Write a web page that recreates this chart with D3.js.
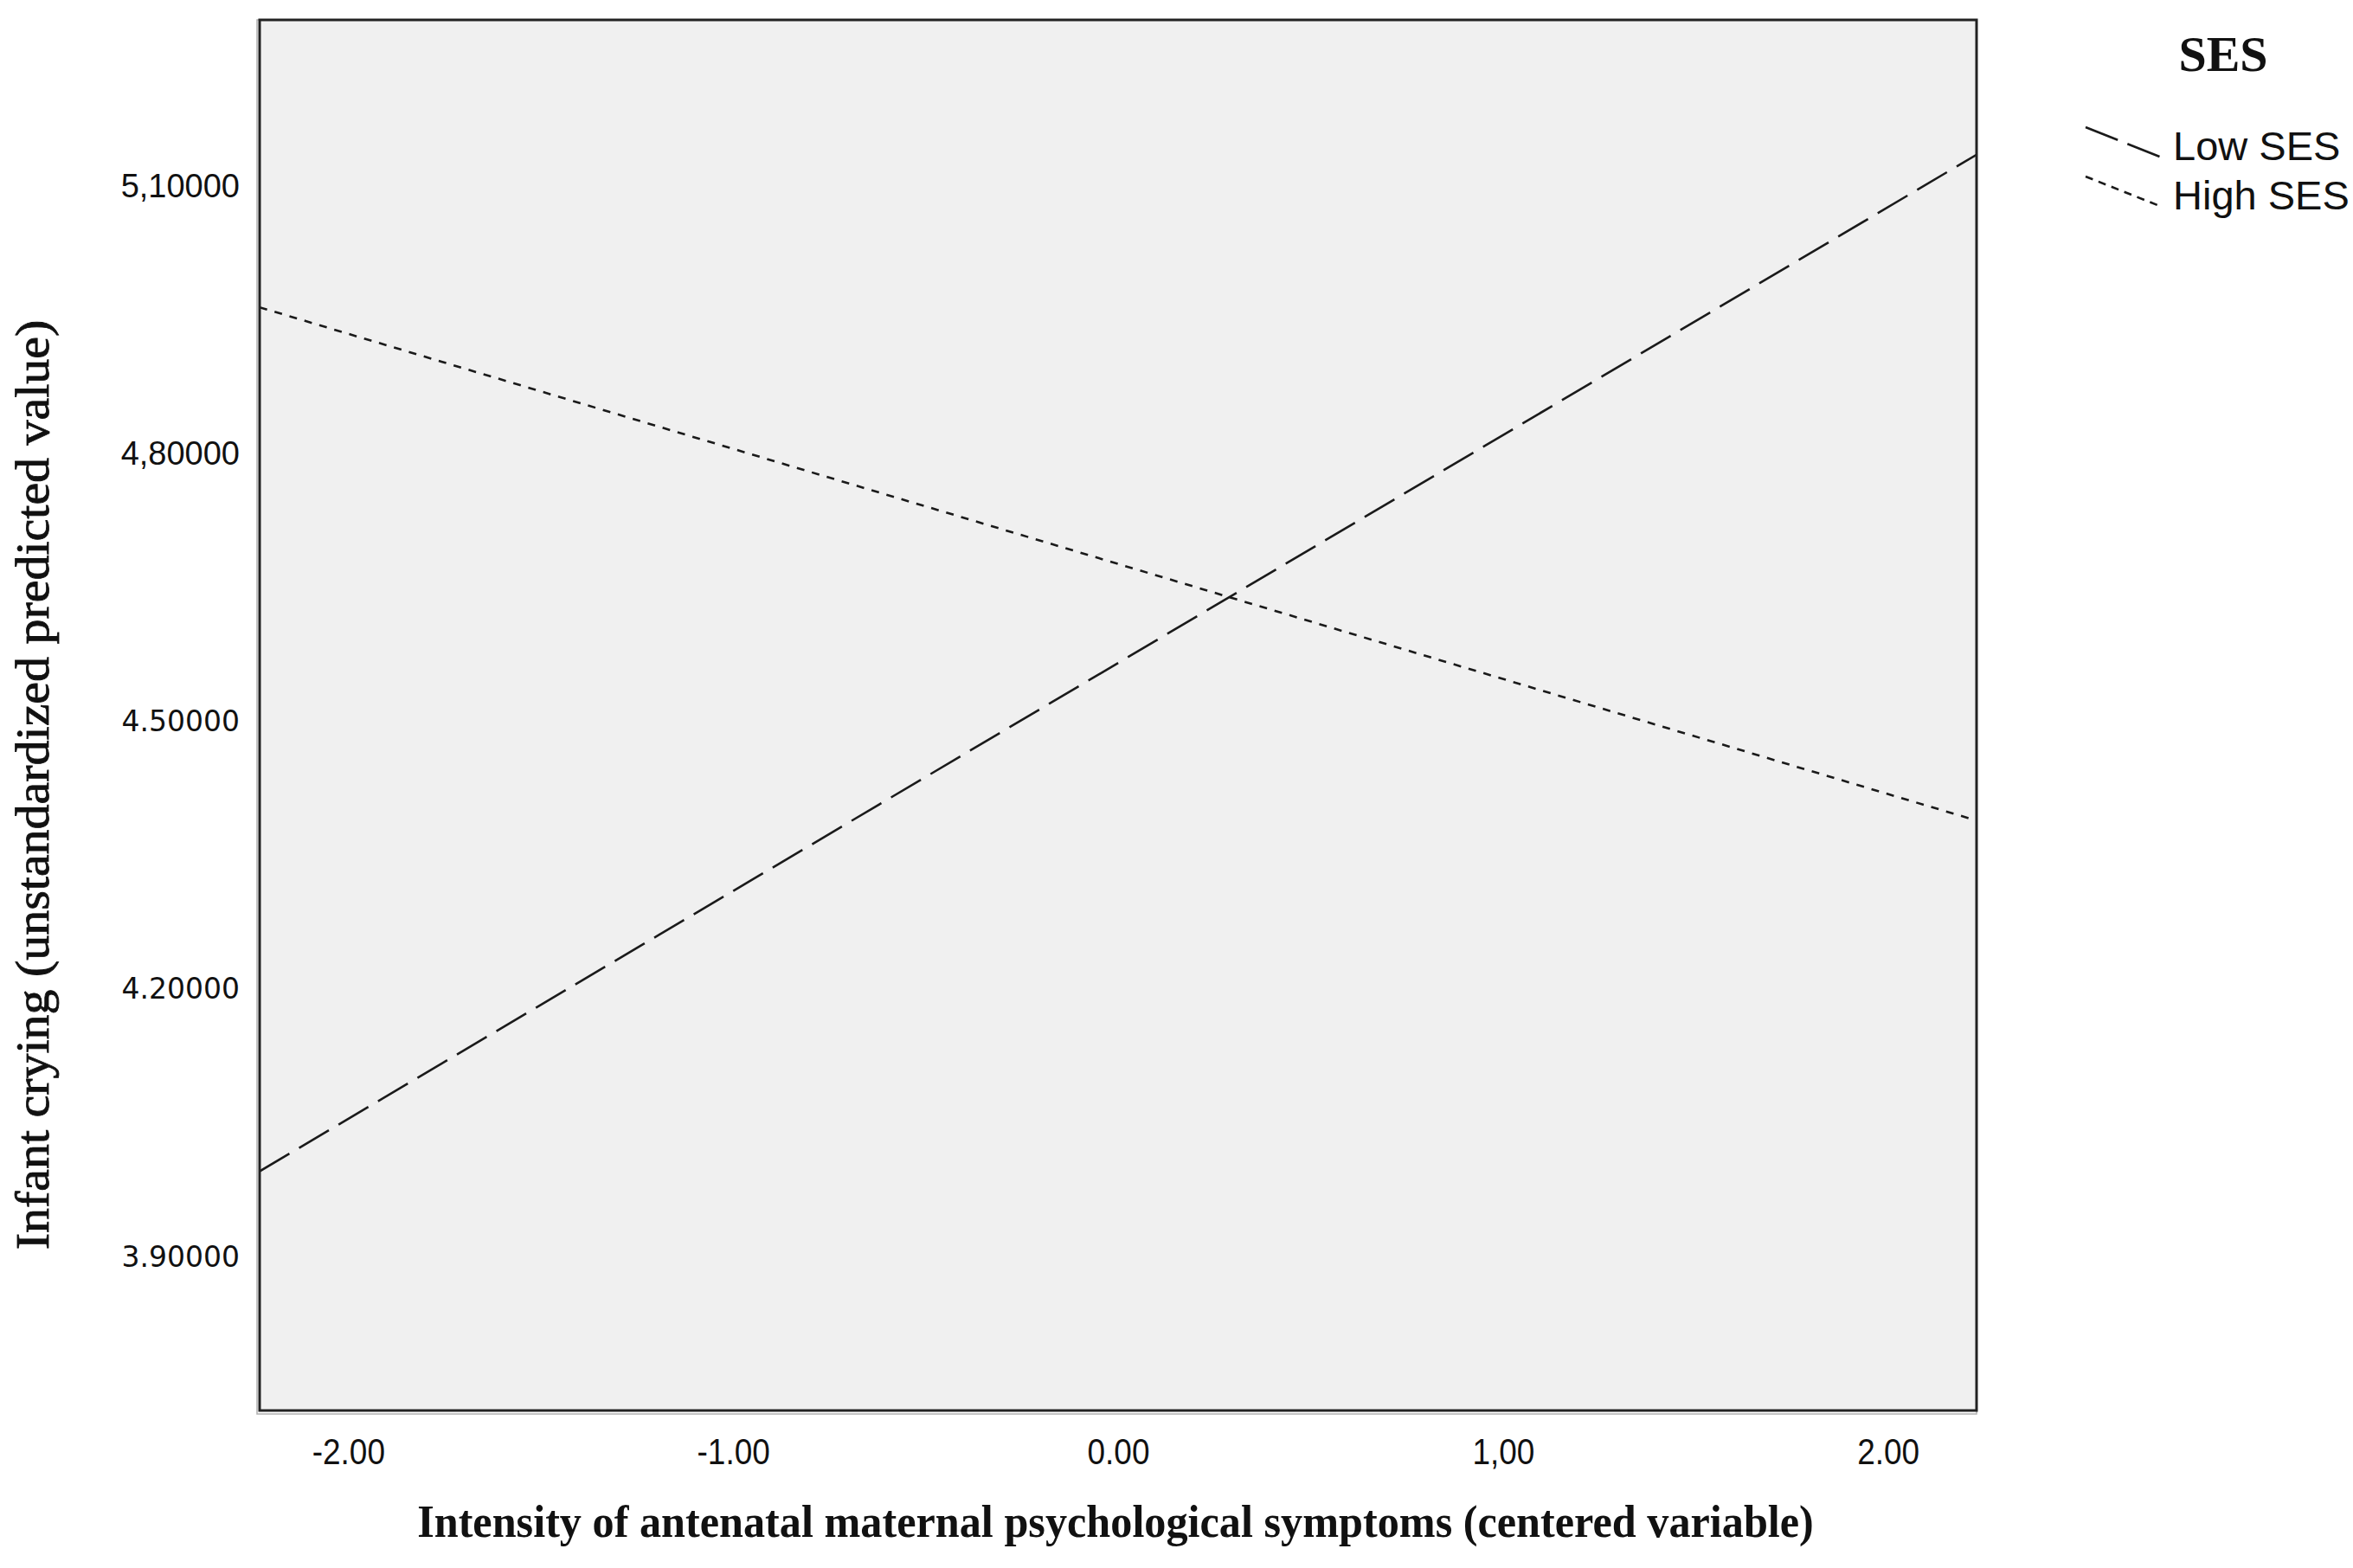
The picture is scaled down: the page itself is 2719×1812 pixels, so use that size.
<!DOCTYPE html>
<html>
<head>
<meta charset="utf-8">
<script src="https://cdn.jsdelivr.net/npm/d3@7"></script>
<style>
  body { margin: 0; background: #fff; }
  svg { display: block; }
</style>
</head>
<body>
<div id="chart"></div>
<script>
// data
var xTicks = [-2, -1, 0, 1, 2];
var xTickLabels = ["-2.00", "-1.00", "0.00", "1,00", "2.00"];
var yTicks = [5.1, 4.8, 4.5, 4.2, 3.9];
var yTickLabels = ["5,10000", "4,80000", "4.50000", "4.20000", "3.90000"];
var xDomain = [-2.23, 2.23];
var yDomain = [3.728, 5.286];
var seriesNames = ["Low SES", "High SES"];
var xEnds = [-2.23, 2.23];
var lowSES = [3.996, 5.135];
var highSES = [4.964, 4.389];

var W = 2719, H = 1812;
var plot = {left: 300, top: 23, right: 2284, bottom: 1630};

var svg = d3.select("#chart").append("svg")
  .attr("width", W).attr("height", H);

var x = d3.scaleLinear().domain(xDomain).range([plot.left, plot.right]);
var y = d3.scaleLinear().domain(yDomain).range([plot.bottom, plot.top]);

// shade + background
svg.append("rect")
  .attr("x", plot.left - 3).attr("y", plot.top)
  .attr("width", plot.right - plot.left + 3).attr("height", plot.bottom - plot.top + 4)
  .attr("fill", "none").attr("stroke", "#b0b0b0").attr("stroke-width", 1.5);
svg.append("rect")
  .attr("x", plot.left).attr("y", plot.top)
  .attr("width", plot.right - plot.left).attr("height", plot.bottom - plot.top)
  .attr("fill", "#f0f0f0");

svg.append("clipPath").attr("id", "clip")
  .append("rect")
  .attr("x", plot.left).attr("y", plot.top)
  .attr("width", plot.right - plot.left).attr("height", plot.bottom - plot.top);

var dashes = {"Low SES": "40,13", "High SES": "9,9"};
var series = [
  {name: "Low SES", values: lowSES},
  {name: "High SES", values: highSES}
];

var line = d3.line()
  .x(function(d) { return x(d[0]); })
  .y(function(d) { return y(d[1]); });

svg.append("g").attr("clip-path", "url(#clip)")
  .selectAll("path")
  .data(series).enter()
  .append("path")
  .attr("d", function(s) { return line(d3.zip(xEnds, s.values)); })
  .attr("fill", "none")
  .attr("stroke", "#1a1a1a")
  .attr("stroke-width", 2.6)
  .attr("stroke-dasharray", function(s) { return dashes[s.name]; });

// frame
svg.append("rect")
  .attr("x", plot.left).attr("y", plot.top)
  .attr("width", plot.right - plot.left).attr("height", plot.bottom - plot.top)
  .attr("fill", "none").attr("stroke", "#222").attr("stroke-width", 3);

// y axis
var yAxis = svg.append("g")
  .attr("transform", "translate(" + plot.left + ",0)")
  .call(d3.axisLeft(y).tickValues(yTicks).tickSize(0).tickPadding(23)
    .tickFormat(function(d, i) { return yTickLabels[i]; }));
yAxis.select(".domain").remove();
yAxis.selectAll("text")
  .attr("fill", "#111")
  .style("font-family", function(d, i) {
    return yTickLabels[i].indexOf(",") >= 0 ? "'Liberation Sans', Arial, sans-serif" : "'DejaVu Sans', Verdana, sans-serif";
  })
  .style("font-size", function(d, i) { return yTickLabels[i].indexOf(",") >= 0 ? "38px" : "33px"; });

// x axis
var xAxis = svg.append("g")
  .attr("transform", "translate(0," + plot.bottom + ")")
  .call(d3.axisBottom(x).tickValues(xTicks).tickSize(0).tickPadding(32)
    .tickFormat(function(d, i) { return xTickLabels[i]; }));
xAxis.select(".domain").remove();
xAxis.selectAll("text")
  .attr("fill", "#111")
  .attr("transform", "scale(0.88,1)")
  .style("font-family", "'Liberation Sans Narrow', 'Liberation Sans', Arial, sans-serif")
  .style("font-size", "42px");

function fitWidth(sel, target, base) {
  var w = sel.node().getComputedTextLength();
  sel.attr("transform", base + " scale(" + (target / w) + ",1)");
}

// axis titles
var xTitle = svg.append("text")
  .attr("text-anchor", "middle")
  .style("font-family", "'Liberation Serif', 'Times New Roman', serif")
  .style("font-weight", "bold")
  .style("font-size", "52px")
  .attr("fill", "#111")
  .text("Intensity of antenatal maternal psychological symptoms (centered variable)");
fitWidth(xTitle, 1614, "translate(1289,1776)");

var yTitle = svg.append("text")
  .attr("text-anchor", "middle")
  .style("font-family", "'Liberation Serif', 'Times New Roman', serif")
  .style("font-size", "54px")
  .attr("fill", "#111")
  .attr("stroke", "#111").attr("stroke-width", 0.8)
  .text("Infant crying (unstandardized predicted value)");
fitWidth(yTitle, 1075, "translate(56,907) rotate(-90)");

// legend
var legend = svg.append("g").attr("transform", "translate(2410,0)");
legend.append("text")
  .attr("x", 159).attr("y", 82)
  .attr("text-anchor", "middle")
  .style("font-family", "'Liberation Serif', 'Times New Roman', serif")
  .style("font-weight", "bold")
  .style("font-size", "58px")
  .attr("fill", "#111")
  .text("SES");

var item = legend.selectAll("g.item")
  .data(series).enter()
  .append("g").attr("class", "item")
  .attr("transform", function(d, i) { return "translate(0," + (i * 57) + ")"; });
item.append("line")
  .attr("x1", 0).attr("y1", 147).attr("x2", 88).attr("y2", 182)
  .attr("stroke", "#1a1a1a").attr("stroke-width", 2.6)
  .attr("stroke-dasharray", function(s) { return s.name === "Low SES" ? "40,12" : "9,7"; });
item.append("text")
  .attr("x", 101).attr("y", 185)
  .style("font-family", "'Liberation Sans', Arial, sans-serif")
  .style("font-size", "47px")
  .attr("fill", "#111")
  .text(function(s, i) { return seriesNames[i]; });
</script>
</body>
</html>
